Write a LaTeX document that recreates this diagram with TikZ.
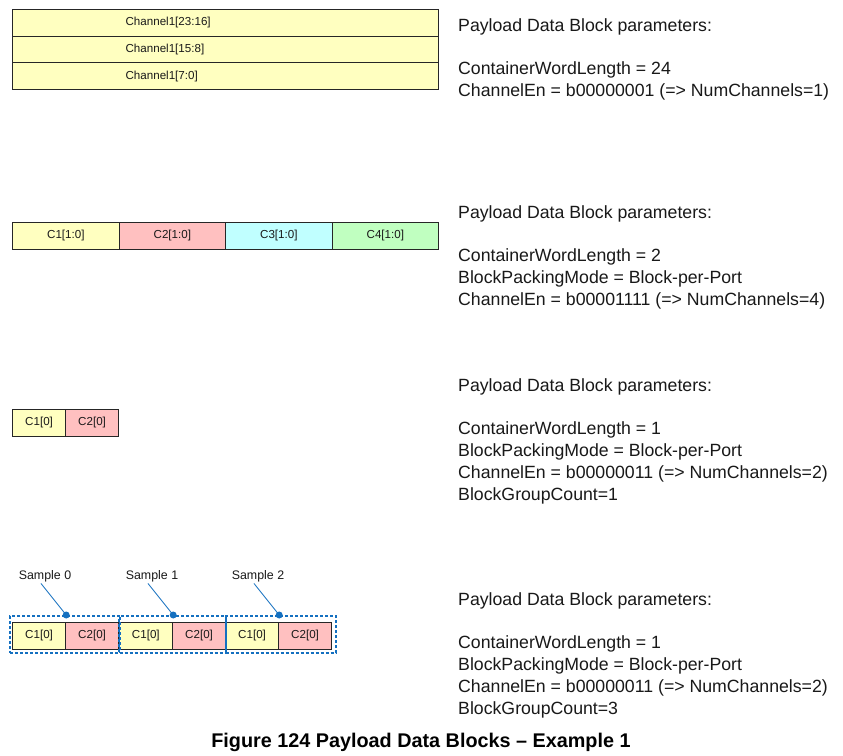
\documentclass[tikz,border=0pt]{standalone}
\usepackage{fontspec}
\setmainfont{Liberation Sans}
\usetikzlibrary{calc}
\definecolor{cyel}{HTML}{FFFFC0}
\definecolor{cpink}{HTML}{FFC0C0}
\definecolor{ccyan}{HTML}{C0FFFF}
\definecolor{cgreen}{HTML}{C0FFC0}
\definecolor{sampblue}{HTML}{1470C0}
\newcommand{\cellfont}{\fontsize{11.6}{13}\selectfont}
\newcommand{\labfont}{\fontsize{12.4}{14}\selectfont}
\newcommand{\parfont}{\fontsize{17.7}{21.8}\selectfont}
\begin{document}
\begin{tikzpicture}[x=1pt,y=-1pt,
  cell/.style={draw=black!85, line width=1.2pt, minimum height=26.6pt,
    inner sep=0pt, anchor=north west, font=\cellfont, text=black!90},
  rowcell/.style={cell, minimum width=426pt, text width=200pt,
    inner xsep=113pt, align=left},
  % anchored at the baseline of the last line of the block
  params/.style={anchor=base west, inner sep=0pt, font=\parfont,
    align=left, text=black!90},
  sampbox/.style={draw=sampblue, line width=2pt, dash pattern=on 3pt off 2pt,
    anchor=north west, inner sep=0pt},
  samplabel/.style={font=\labfont, inner sep=1pt, text=black!90},
  leader/.style={draw=sampblue, line width=0.8pt},
  dot/.style={circle, fill=sampblue, inner sep=0pt, minimum size=7pt}]

\fill[white] (0,0) rectangle (843,755);
\useasboundingbox (0,0) rectangle (843,755);

% ---- block 1: one 24-bit channel, three byte rows
\node[rowcell, fill=cyel] (r1) at (12,9) {Channel1[23:16]};
\node[rowcell, fill=cyel] (r2) at (12,35.6) {Channel1[15:8]};
\node[rowcell, fill=cyel] (r3) at (12,62.2) {Channel1[7:0]};

\node[params] (p1) at (458,96.4) {Payload Data Block parameters:\\[21.8pt]
ContainerWordLength = 24\\
ChannelEn = b00000001 (=> NumChannels=1)};

% ---- block 2: four 2-bit channels
\node[cell, fill=cyel,   minimum width=106.5pt] (b1) at (12,222) {C1[1:0]};
\node[cell, fill=cpink,  minimum width=106.5pt] (b2) at (118.5,222) {C2[1:0]};
\node[cell, fill=ccyan,  minimum width=106.5pt] (b3) at (225,222) {C3[1:0]};
\node[cell, fill=cgreen, minimum width=106.5pt] (b4) at (331.5,222) {C4[1:0]};

\node[params] (p2) at (458,305.5) {Payload Data Block parameters:\\[21.8pt]
ContainerWordLength = 2\\
BlockPackingMode = Block-per-Port\\
ChannelEn = b00001111 (=> NumChannels=4)};

% ---- block 3: two 1-bit channels, one group
\node[cell, fill=cyel,  minimum width=53pt] (c1) at (12,409) {C1[0]};
\node[cell, fill=cpink, minimum width=53pt] (c2) at (65,409) {C2[0]};

\node[params] (p3) at (458,500) {Payload Data Block parameters:\\[21.8pt]
ContainerWordLength = 1\\
BlockPackingMode = Block-per-Port\\
ChannelEn = b00000011 (=> NumChannels=2)\\
BlockGroupCount=1};

% ---- block 4: two 1-bit channels, three groups (samples)
\node[cell, fill=cyel,  minimum width=53pt] (d1) at (12,622) {C1[0]};
\node[cell, fill=cpink, minimum width=53pt] (d2) at (65,622) {C2[0]};
\node[cell, fill=cyel,  minimum width=53.5pt] (d3) at (118.5,622) {C1[0]};
\node[cell, fill=cpink, minimum width=53pt] (d4) at (172,622) {C2[0]};
\node[cell, fill=cyel,  minimum width=53pt] (d5) at (225,622) {C1[0]};
\node[cell, fill=cpink, minimum width=53pt] (d6) at (278,622) {C2[0]};

\node[sampbox, minimum width=109pt, minimum height=37pt] (s0) at (9,615) {};
\node[sampbox, minimum width=106pt, minimum height=37pt] (s1) at (118.5,615) {};
\node[sampbox, minimum width=110pt, minimum height=37pt] (s2) at (224.5,615) {};

\node[dot] (k0) at (d1.north east |- s0.north) {};
\node[dot] (k1) at (d3.north east |- s1.north) {};
\node[dot] (k2) at (d5.north east |- s2.north) {};

\node[samplabel] (l0) at (45,576.5) {Sample 0};
\node[samplabel] (l1) at (152,576.5) {Sample 1};
\node[samplabel] (l2) at (258,576.5) {Sample 2};

\draw[leader] ([xshift=-4pt]l0.south) -- (k0.center);
\draw[leader] ([xshift=-4pt]l1.south) -- (k1.center);
\draw[leader] ([xshift=-4pt]l2.south) -- (k2.center);

\node[params] (p4) at (458,714) {Payload Data Block parameters:\\[21.8pt]
ContainerWordLength = 1\\
BlockPackingMode = Block-per-Port\\
ChannelEn = b00000011 (=> NumChannels=2)\\
BlockGroupCount=3};

% ---- caption
\node[anchor=base, inner sep=0pt, font=\fontsize{19.8}{22}\selectfont\bfseries]
  (cap) at (421,747) {Figure 124 Payload Data Blocks -- Example 1};
\end{tikzpicture}
\end{document}
